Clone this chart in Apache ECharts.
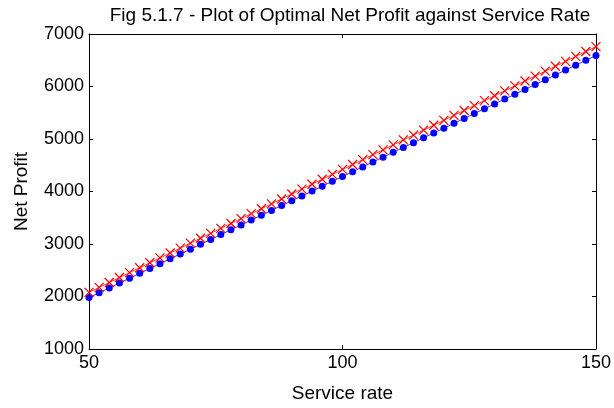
<!DOCTYPE html>
<html>
<head>
<meta charset="utf-8">
<script src="https://cdn.jsdelivr.net/npm/echarts@6/dist/echarts.min.js"></script>
<style>
  html, body { margin: 0; padding: 0; background: #fff; }
  #chart { width: 614px; height: 408px; }
</style>
</head>
<body>
<div id="chart"></div>
<script>
// service rate values (x)
var serviceRate = [50, 52, 54, 56, 58, 60, 62, 64, 66, 68, 70, 72, 74, 76, 78, 80, 82, 84, 86, 88,
  90, 92, 94, 96, 98, 100, 102, 104, 106, 108, 110, 112, 114, 116, 118, 120, 122, 124, 126, 128,
  130, 132, 134, 136, 138, 140, 142, 144, 146, 148, 150];

// blue dots
var profitDots = [1980, 2072, 2164, 2257, 2349, 2441, 2533, 2625, 2718, 2810, 2902, 2994, 3086,
  3179, 3271, 3363, 3455, 3547, 3640, 3732, 3824, 3916, 4008, 4101, 4193, 4285, 4377, 4469,
  4562, 4654, 4746, 4838, 4930, 5023, 5115, 5207, 5299, 5391, 5484, 5576, 5668, 5760, 5852,
  5945, 6037, 6129, 6221, 6313, 6406, 6498, 6590];

// red crosses
var profitCrosses = [2080, 2174, 2267, 2361, 2454, 2548, 2642, 2735, 2829, 2922, 3016, 3110,
  3203, 3297, 3390, 3484, 3578, 3671, 3765, 3858, 3952, 4046, 4139, 4233, 4326, 4420, 4514,
  4607, 4701, 4794, 4888, 4982, 5075, 5169, 5262, 5356, 5450, 5543, 5637, 5730, 5824, 5918,
  6011, 6105, 6198, 6292, 6386, 6479, 6573, 6666, 6760];

var font = '"Liberation Sans", Arial, sans-serif';

function pairs(ys) {
  return serviceRate.map(function (x, i) { return [x, ys[i]]; });
}

var chart = echarts.init(document.getElementById('chart'));

var boxAxis = {
  axisLine: { show: true, lineStyle: { color: '#000', width: 1 } },
  axisTick: { show: true, inside: true, length: 4, lineStyle: { color: '#000' } },
  splitLine: { show: false }
};

var tickStyle = { fontFamily: font, fontSize: 18, color: '#000' };
var nameStyle = { fontFamily: font, fontSize: 19, color: '#000' };

chart.setOption({
  animation: false,
  backgroundColor: '#fff',
  title: {
    text: 'Fig 5.1.7 - Plot of Optimal Net Profit against Service Rate',
    left: 345,
    textAlign: 'center',
    top: 1,
    textStyle: { fontFamily: font, fontSize: 19, fontWeight: 'normal', color: '#000' }
  },
  grid: { left: 89, right: 17, top: 34, bottom: 57 },
  xAxis: [
    Object.assign({
      type: 'value', min: 50, max: 150, interval: 50, position: 'bottom',
      name: 'Service rate', nameLocation: 'middle', nameGap: 35,
      nameTextStyle: nameStyle,
      axisLabel: Object.assign({ margin: 5 }, tickStyle)
    }, boxAxis),
    Object.assign({
      type: 'value', min: 50, max: 150, interval: 50, position: 'top',
      axisLabel: { show: false }
    }, boxAxis)
  ],
  yAxis: [
    Object.assign({
      type: 'value', min: 1000, max: 7000, interval: 1000, position: 'left',
      name: 'Net Profit', nameLocation: 'middle', nameGap: 58,
      nameTextStyle: nameStyle,
      axisLabel: Object.assign({ margin: 5, formatter: function (v) { return String(v); } }, tickStyle)
    }, boxAxis),
    Object.assign({
      type: 'value', min: 1000, max: 7000, interval: 1000, position: 'right',
      axisLabel: { show: false }
    }, boxAxis)
  ],
  series: [
    {
      type: 'line',
      data: pairs(profitCrosses),
      symbol: 'path://M0,0L10,10M10,0L0,10',
      symbolSize: 9,
      lineStyle: { color: '#ff0000', width: 0.8 },
      itemStyle: { color: 'rgba(0,0,0,0)', borderColor: '#ff0000', borderWidth: 1.2 },
      z: 3
    },
    {
      type: 'line',
      data: pairs(profitDots),
      symbol: 'circle',
      symbolSize: 7,
      showSymbol: true,
      lineStyle: { color: '#0000ff', width: 0.8 },
      itemStyle: { color: '#0000ff', borderWidth: 0 },
      z: 2
    }
  ]
});

window.addEventListener('resize', function () { chart.resize(); });
</script>
</body>
</html>
